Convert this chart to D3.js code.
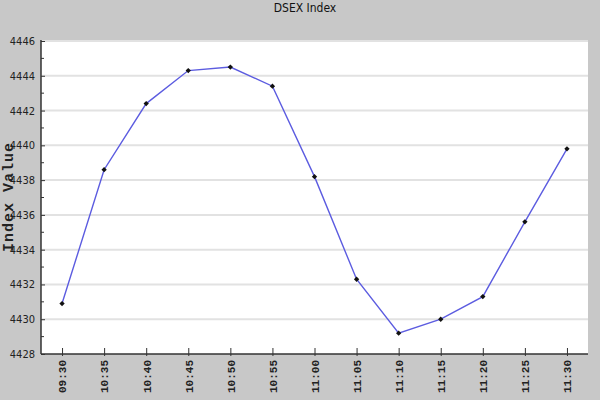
<!DOCTYPE html>
<html><head><meta charset="utf-8">
<script src="https://cdn.jsdelivr.net/npm/d3@7"></script>
<style>
html,body{margin:0;padding:0;background:#c8c8c8;}
svg{display:block;}
</style></head>
<body>
<svg id="chart" width="600" height="400"></svg>
<script>
const title = "DSEX Index";
const yTitle = "Index Value";
const times = ["09:30","10:35","10:40","10:45","10:50","10:55","11:00","11:05","11:10","11:15","11:20","11:25","11:30"];
const values = [4430.9,4438.6,4442.4,4444.3,4444.5,4443.4,4438.2,4432.3,4429.2,4430.0,4431.3,4435.6,4439.8];
const yMajorTicks = [4428,4430,4432,4434,4436,4438,4440,4442,4444,4446];
const yMinorTicks = [4429,4431,4433,4435,4437,4439,4441,4443,4445];

(function(){
const svg = d3.select("#chart");
const pL = 41, pR = 588, pT = 40, pB = 354;

svg.append("rect").attr("width",600).attr("height",400).attr("fill","#c8c8c8");
svg.append("rect").attr("x",pL).attr("y",pT).attr("width",pR-pL).attr("height",pB-pT).attr("fill","#ffffff");

const x = d3.scalePoint().domain(times).range([pL,pR]).padding(0.5);
const y = d3.scaleLinear().domain([4428,4446]).range([pB,41]);

// gridlines
svg.append("g").selectAll("line").data(yMajorTicks.slice(1)).join("line")
  .attr("x1",pL+1).attr("x2",pR).attr("y1",d=>y(d)).attr("y2",d=>y(d))
  .attr("stroke","#e2e2e2").attr("stroke-width",2);

// y axis
const yAxis = d3.axisLeft(y).tickValues(yMajorTicks).tickSize(-4).tickPadding(6).tickFormat(d3.format("d"));
const gy = svg.append("g").attr("transform",`translate(${pL},0)`).call(yAxis);
gy.select(".domain").attr("stroke","#333").attr("stroke-width",1.5).attr("d",`M0,${pT}V${pB}`);
gy.selectAll(".tick line").attr("stroke","#333");
gy.selectAll(".tick text").attr("font-family","'Liberation Sans Narrow','DejaVu Sans Condensed',sans-serif")
  .attr("font-size",11).attr("fill","#222").attr("x",-6);
svg.append("g").attr("transform",`translate(${pL},0)`).selectAll("line").data(yMinorTicks).join("line")
  .attr("x1",0).attr("x2",3).attr("y1",d=>y(d)).attr("y2",d=>y(d)).attr("stroke","#333");

// x axis
const xAxis = d3.axisBottom(x).tickSize(-6).tickSizeOuter(0);
const gx = svg.append("g").attr("transform",`translate(0,${pB})`).call(xAxis);
gx.select(".domain").attr("stroke","#333").attr("stroke-width",1.5).attr("d",`M${pL},0H${pR}`);
gx.selectAll(".tick line").attr("stroke","#333").attr("y1",2);
gx.selectAll(".tick text")
  .attr("font-family","'Liberation Mono','DejaVu Sans Mono',monospace").attr("font-weight","bold")
  .attr("font-size",11).attr("fill","#222")
  .attr("transform","rotate(-90)").attr("text-anchor","end").attr("dy","0.35em")
  .attr("x",-6).attr("y",0);

// line
const line = d3.line().x((d,i)=>x(times[i])).y(d=>y(d));
svg.append("path").datum(values).attr("d",line).attr("fill","none")
  .attr("stroke","#5c5ce0").attr("stroke-width",1.4);

// markers
svg.append("g").selectAll("path").data(values).join("path")
  .attr("d",d3.symbol(d3.symbolDiamond2,18))
  .attr("transform",(d,i)=>`translate(${x(times[i])},${y(d)})`)
  .attr("fill","#111");

// title
svg.append("text").attr("x",305).attr("y",12).attr("text-anchor","middle")
  .attr("font-family","'Liberation Sans Narrow','DejaVu Sans Condensed',sans-serif")
  .attr("font-size",12).attr("fill","#111").text(title);

// y title
svg.append("text").attr("transform","translate(13,197) rotate(-90)").attr("text-anchor","middle")
  .attr("font-family","'Liberation Mono','DejaVu Sans Mono',monospace").attr("font-weight","bold")
  .attr("font-size",15).attr("letter-spacing",1).attr("fill","#222").text(yTitle);
})();
</script>
</body></html>
